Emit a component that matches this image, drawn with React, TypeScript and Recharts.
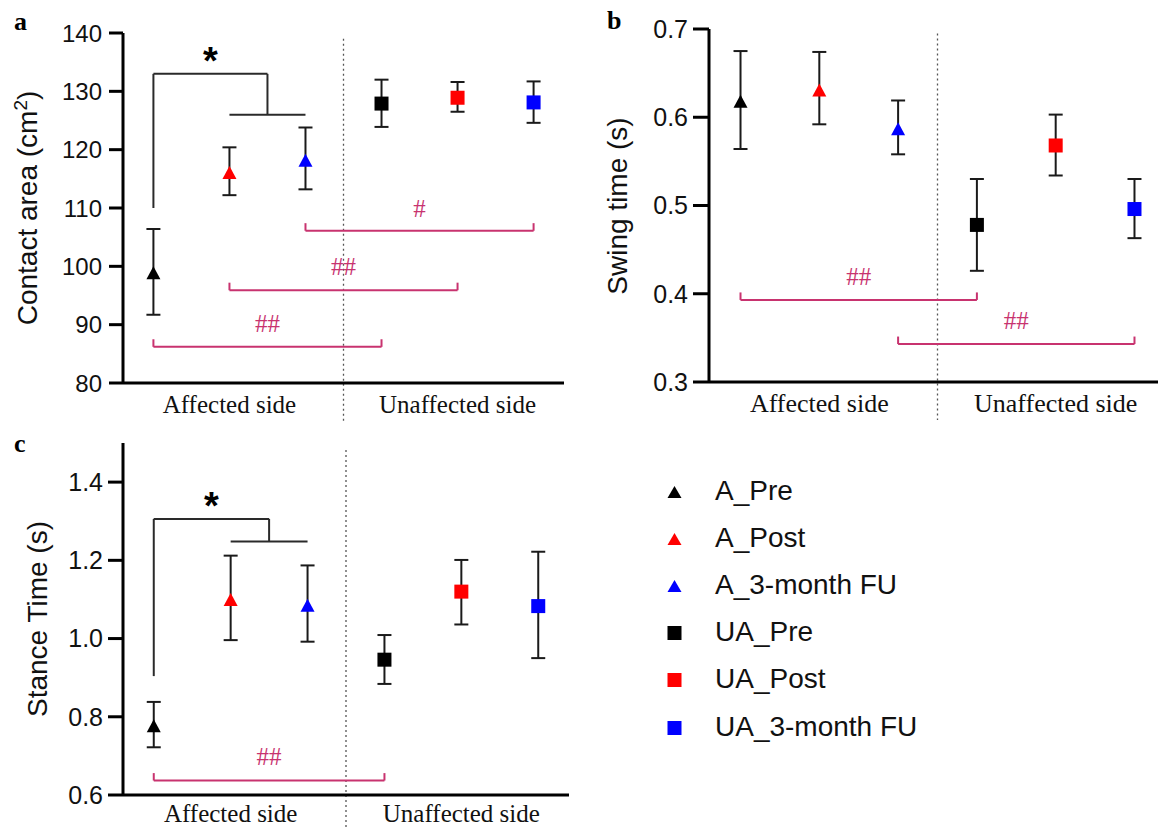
import React from 'react';
import { ScatterChart, Scatter, XAxis, YAxis, ErrorBar, ReferenceLine, ReferenceDot } from 'recharts';

const groupNames = ['A_Pre', 'A_Post', 'A_3-month FU', 'UA_Pre', 'UA_Post', 'UA_3-month FU'];
const groupPos = [1, 2, 3, 4, 5, 6];
const groupColors = ['#000000', '#ff0000', '#0000ff', '#000000', '#ff0000', '#0000ff'];
const groupMarkers = ['triangle', 'triangle', 'triangle', 'square', 'square', 'square'];

const sideTicks = [2, 5];
const sideLabels = ['Affected side', 'Unaffected side'];
const dividerX = 3.5;

// a: contact area
const contactMean = [98.9, 116.1, 118.2, 127.9, 128.9, 128.1];
const contactLow = [91.7, 112.2, 113.2, 123.9, 126.5, 124.6];
const contactHigh = [106.4, 120.4, 123.8, 132.0, 131.6, 131.7];
const contactTicks = [80, 90, 100, 110, 120, 130, 140];

// b: swing time
const swingMean = [0.618, 0.631, 0.587, 0.478, 0.568, 0.496];
const swingLow = [0.564, 0.592, 0.558, 0.426, 0.534, 0.463];
const swingHigh = [0.675, 0.674, 0.619, 0.53, 0.603, 0.53];
const swingTicks = [0.3, 0.4, 0.5, 0.6, 0.7];

// c: stance time
const stanceMean = [0.777, 1.1, 1.085, 0.946, 1.12, 1.083];
const stanceLow = [0.722, 0.996, 0.992, 0.884, 1.036, 0.95];
const stanceHigh = [0.838, 1.212, 1.187, 1.009, 1.201, 1.222];
const stanceTicks = [0.6, 0.8, 1.0, 1.2, 1.4];

// '#' comparisons (group from/to, bracket level, end tick height, label and its level)
const contactHash = [
  { from: 1, to: 4, level: 86.2, tick: 1.3, text: '##', textY: 90.2 },
  { from: 2, to: 5, level: 95.9, tick: 1.3, text: '##', textY: 100 },
  { from: 3, to: 6, level: 106.1, tick: 1.3, text: '#', textY: 110 },
];
const swingHash = [
  { from: 1, to: 4, level: 0.393, tick: 0.0085, text: '##', textY: 0.42 },
  { from: 3, to: 6, level: 0.343, tick: 0.0085, text: '##', textY: 0.37 },
];
const stanceHash = [{ from: 1, to: 4, level: 0.637, tick: 0.019, text: '##', textY: 0.698 }];

// '*' comparison: Pre against Post and FU
const contactStar = { base: 1, start: 110, top: 133, pair: [2, 3], level: 126, textY: 136.7 };
const stanceStar = { base: 1, start: 0.904, top: 1.306, pair: [2, 3], level: 1.248, textY: 1.362 };

const MAGENTA = '#c8336f';
const SANS = "'Liberation Sans', Arial, sans-serif";
const SERIF = "'Liberation Serif', 'Times New Roman', serif";

const Tri = (p: any) => (
  <polygon points={`${p.cx},${p.cy - 6.5} ${p.cx + 7},${p.cy + 6.5} ${p.cx - 7},${p.cy + 6.5}`} fill={p.fill} />
);
const Sq = (p: any) => <rect x={p.cx - 7} y={p.cy - 7} width={14} height={14} fill={p.fill} />;

const makeRows = (mean: number[], low: number[], high: number[]) =>
  groupPos.map((x, i) => ({ x, y: mean[i], err: [mean[i] - low[i], high[i] - mean[i]] }));

const hashBrackets = (list: any[]) =>
  list.flatMap((b, i) => [
    <ReferenceLine key={`h${i}`} segment={[{ x: b.from, y: b.level }, { x: b.to, y: b.level }]} stroke={MAGENTA} strokeWidth={2} />,
    <ReferenceLine key={`l${i}`} segment={[{ x: b.from, y: b.level }, { x: b.from, y: b.level + b.tick }]} stroke={MAGENTA} strokeWidth={2} />,
    <ReferenceLine key={`r${i}`} segment={[{ x: b.to, y: b.level }, { x: b.to, y: b.level + b.tick }]} stroke={MAGENTA} strokeWidth={2} />,
    <ReferenceDot
      key={`t${i}`}
      x={(b.from + b.to) / 2}
      y={b.textY}
      r={0}
      shape={(p: any) => (
        <text x={p.cx} y={p.cy + 8.5} textAnchor="middle" fontFamily={SERIF} fontSize={25} fill={MAGENTA}>
          {b.text}
        </text>
      )}
    />,
  ]);

const starBracket = (s: any) => {
  const mid = (s.pair[0] + s.pair[1]) / 2;
  const line = { stroke: '#2a2a2a', strokeWidth: 2 };
  return [
    <ReferenceLine key="s1" segment={[{ x: s.base, y: s.start }, { x: s.base, y: s.top }]} {...line} />,
    <ReferenceLine key="s2" segment={[{ x: s.base, y: s.top }, { x: mid, y: s.top }]} {...line} />,
    <ReferenceLine key="s3" segment={[{ x: mid, y: s.top }, { x: mid, y: s.level }]} {...line} />,
    <ReferenceLine key="s4" segment={[{ x: s.pair[0], y: s.level }, { x: s.pair[1], y: s.level }]} {...line} />,
    <ReferenceDot
      key="s5"
      x={(s.base + mid) / 2}
      y={s.textY}
      r={0}
      shape={(p: any) => (
        <text x={p.cx} y={p.cy + 22} textAnchor="middle" fontFamily={SANS} fontWeight="bold" fontSize={38} fill="#000">
          *
        </text>
      )}
    />,
  ];
};

type PanelProps = {
  mean: number[];
  low: number[];
  high: number[];
  domain: [number, number];
  ticks: number[];
  digits: number;
  divider: [number, number];
  hash: any[];
  star?: any;
  width: number;
  height: number;
  top: number;
  right: number;
  yWidth: number;
  xHeight: number;
  tickSize: number;
  tickMargin: number;
  tickFont: number;
  xMargin: number;
  xFont: number;
};

const Panel = (p: PanelProps) => {
  const rows = makeRows(p.mean, p.low, p.high);
  const axis = { stroke: '#000', strokeWidth: 3 };
  return (
    <ScatterChart width={p.width} height={p.height} margin={{ top: p.top, right: p.right, bottom: 0, left: 0 }}>
      <XAxis
        type="number"
        dataKey="x"
        domain={[0.6, 6.4]}
        ticks={sideTicks}
        interval={0}
        tickFormatter={(v: number) => sideLabels[sideTicks.indexOf(v)]}
        tickSize={0}
        tickMargin={p.xMargin}
        tickLine={false}
        axisLine={axis}
        height={p.xHeight}
        tick={{ fontFamily: SERIF, fontSize: p.xFont, fill: '#111' }}
      />
      <YAxis
        type="number"
        dataKey="y"
        domain={p.domain}
        ticks={p.ticks}
        interval={0}
        tickFormatter={(v: number) => v.toFixed(p.digits)}
        width={p.yWidth}
        tickSize={p.tickSize}
        tickMargin={p.tickMargin}
        axisLine={axis}
        tickLine={axis}
        tick={{ fontFamily: SANS, fontSize: p.tickFont, fill: '#111' }}
      />
      <ReferenceLine
        segment={[{ x: dividerX, y: p.divider[0] }, { x: dividerX, y: p.divider[1] }]}
        stroke="#555"
        strokeWidth={1.3}
        strokeDasharray="2 3"
        ifOverflow="visible"
      />
      {hashBrackets(p.hash)}
      {p.star ? starBracket(p.star) : null}
      {rows.map((row, i) => (
        <Scatter
          key={groupNames[i]}
          name={groupNames[i]}
          data={[row]}
          fill={groupColors[i]}
          shape={groupMarkers[i] === 'triangle' ? Tri : Sq}
          isAnimationActive={false}
        >
          <ErrorBar dataKey="err" direction="y" width={7} stroke="#1a1a1a" strokeWidth={2} />
        </Scatter>
      ))}
    </ScatterChart>
  );
};

const legendY = [492, 539, 586, 633, 680, 728];

const App = () => {
  return (
    <div style={{ position: 'absolute', left: 0, top: 0, width: 1158, height: 827, overflow: 'hidden', background: '#fff' }}>
      <div style={{ position: 'absolute', left: 0, top: 0 }}>
        <Panel
          mean={contactMean}
          low={contactLow}
          high={contactHigh}
          domain={[80, 140]}
          ticks={contactTicks}
          digits={0}
          divider={[139, 73.4]}
          hash={contactHash}
          star={contactStar}
          width={580}
          height={430}
          top={33}
          right={16}
          yWidth={123}
          xHeight={47}
          tickSize={14}
          tickMargin={7}
          tickFont={24}
          xMargin={12}
          xFont={25}
        />
      </div>
      <div style={{ position: 'absolute', left: 580, top: 0 }}>
        <Panel
          mean={swingMean}
          low={swingLow}
          high={swingHigh}
          domain={[0.3, 0.7]}
          ticks={swingTicks}
          digits={1}
          divider={[0.695, 0.257]}
          hash={swingHash}
          width={600}
          height={430}
          top={29}
          right={14}
          yWidth={129}
          xHeight={48}
          tickSize={16}
          tickMargin={5}
          tickFont={25}
          xMargin={12}
          xFont={26}
        />
      </div>
      <div style={{ position: 'absolute', left: 0, top: 420 }}>
        <Panel
          mean={stanceMean}
          low={stanceLow}
          high={stanceHigh}
          domain={[0.6, 1.5]}
          ticks={stanceTicks}
          digits={1}
          divider={[1.482, 0.5]}
          hash={stanceHash}
          star={stanceStar}
          width={580}
          height={407}
          top={23}
          right={11}
          yWidth={123}
          xHeight={32}
          tickSize={15}
          tickMargin={5}
          tickFont={25}
          xMargin={9}
          xFont={25}
        />
      </div>
      <svg width={1158} height={827} style={{ position: 'absolute', left: 0, top: 0, pointerEvents: 'none' }}>
        <g fontFamily={SERIF} fontWeight="bold" fontSize={26} fill="#000">
          <text x={14} y={30}>a</text>
          <text x={607} y={29}>b</text>
          <text x={14} y={452}>c</text>
        </g>
        <g fontFamily={SANS} fontSize={28} fill="#111" textAnchor="middle">
          <text transform="translate(37,208) rotate(-90)">
            Contact area (cm<tspan baselineShift="super" fontSize={19}>2</tspan>)
          </text>
          <text transform="translate(627,206) rotate(-90)">Swing time (s)</text>
          <text transform="translate(47,619) rotate(-90)">Stance Time (s)</text>
        </g>
        {groupNames.map((name, i) => {
          const y = legendY[i];
          return (
            <g key={name}>
              {groupMarkers[i] === 'triangle' ? (
                <polygon points={`674.5,${y - 6} 681.5,${y + 6} 667.5,${y + 6}`} fill={groupColors[i]} />
              ) : (
                <rect x={667.5} y={y - 7} width={14} height={14} fill={groupColors[i]} />
              )}
              <text x={715} y={y + 8} fontFamily={SANS} fontSize={28} fill="#111">
                {name}
              </text>
            </g>
          );
        })}
      </svg>
    </div>
  );
};

export default App;
